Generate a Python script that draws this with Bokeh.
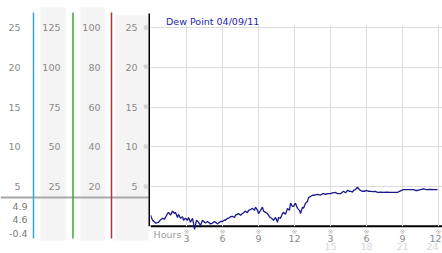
from bokeh.plotting import figure
from bokeh.layouts import row
from bokeh.models import Range1d, FixedTicker, Span, Grid
from bokeh.embed import file_html
from bokeh.resources import INLINE
from bokeh.core.properties import value

# ---------------- data ----------------
hours = [0.00, 0.17, 0.42, 0.67, 0.83, 1.00, 1.17, 1.42, 1.50, 1.67,
         1.83, 2.00, 2.08, 2.25, 2.33, 2.50, 2.67, 2.75, 2.92, 3.08,
         3.17, 3.33, 3.50, 3.58, 3.67, 3.83, 4.00, 4.17, 4.33, 4.50,
         4.58, 4.75, 4.83, 5.00, 5.17, 5.33, 5.42, 5.58, 5.67, 5.83,
         6.00, 6.17, 6.25, 6.42, 6.50, 6.67, 6.83, 7.00, 7.08, 7.25,
         7.33, 7.50, 7.67, 7.83, 7.92, 8.08, 8.17, 8.33, 8.50, 8.67,
         8.75, 8.92, 9.00, 9.17, 9.33, 9.42, 9.58, 9.75, 9.92, 10.00,
         10.17, 10.25, 10.42, 10.58, 10.67, 10.83, 11.00, 11.08, 11.25, 11.42,
         11.58, 11.67, 11.83, 11.92, 12.08, 12.25, 12.42, 12.50, 12.67, 12.75,
         12.92, 13.08, 13.17, 13.33, 13.50, 13.67, 13.92, 14.17, 14.33, 14.42,
         14.58, 14.75, 15.00, 15.17, 15.42, 15.58, 15.83, 16.00, 16.08, 16.25,
         16.42, 16.58, 16.67, 16.83, 16.92, 17.08, 17.25, 17.42, 17.50, 17.67,
         17.83, 18.00, 18.17, 18.33, 18.58, 18.75, 18.92, 19.17, 19.42, 19.67,
         20.00, 20.33, 20.58, 20.75, 20.92, 21.08, 21.33, 21.67, 21.92, 22.08,
         22.25, 22.50, 22.75, 23.00, 23.33, 23.67, 23.92]
dew_point = [1.4, 0.75, 0.4, 0.5, 0.8, 1.0, 0.9, 1.6, 1.75, 1.4,
             1.9, 1.6, 1.75, 1.1, 1.5, 1.0, 1.2, 0.75, 1.0, 0.75,
             1.1, 0.5, 1.0, 0.4, -0.4, 0.75, 0.5, 0.1, 0.75, 0.5,
             0.4, 0.6, 0.5, 0.3, 0.4, 0.6, 0.5, 0.3, 0.4, 0.6,
             0.6, 0.8, 0.75, 1.0, 1.0, 1.2, 1.25, 1.1, 1.4, 1.5,
             1.6, 1.4, 1.6, 1.8, 1.9, 1.7, 2.0, 2.1, 2.25, 2.0,
             2.4, 2.0, 1.6, 2.0, 2.4, 1.9, 1.75, 1.6, 1.2, 1.1,
             0.9, 0.75, 1.1, 0.5, 1.1, 1.0, 1.6, 1.75, 1.5, 2.25,
             2.0, 2.9, 2.5, 2.5, 2.9, 2.25, 2.0, 1.6, 2.4, 2.25,
             2.9, 3.1, 3.6, 3.75, 3.9, 3.9, 4.0, 3.9, 4.1, 4.1,
             4.0, 4.1, 4.1, 4.2, 4.25, 4.1, 4.1, 4.3, 4.4, 4.2,
             4.5, 4.4, 4.4, 4.3, 4.5, 4.6, 4.9, 4.6, 4.5, 4.4,
             4.4, 4.5, 4.4, 4.4, 4.35, 4.4, 4.25, 4.3, 4.25, 4.3,
             4.25, 4.25, 4.25, 4.4, 4.5, 4.6, 4.6, 4.6, 4.6, 4.5,
             4.5, 4.6, 4.7, 4.6, 4.65, 4.6, 4.6]

main_ticks = [5, 10, 15, 20, 25]
col2_labels = [25, 50, 75, 100, 125]
col3_labels = [20, 40, 60, 80, 100]
hour_ticks = [3, 6, 9, 12, 15, 18, 21, 24]
hour_labels = ["3", "6", "9", "12", "3", "6", "9", "12"]
hour24_ticks = [15, 18, 21, 24]
hour24_labels = ["15", "18", "21", "24"]
legend_text = "Dew Point 04/09/11"

# ---------------- layout helpers ----------------
ZERO_PX = 225.75   # screen row of value 0
PXU = 7.95         # pixels per unit


def v(py):
    """value at a given screen row (layout helper)"""
    return (ZERO_PX - py) / PXU


H = 253
FONT = "DejaVu Sans"
FS = "9.5px"
GRID = "#dcdcdc"
LBL = "#8a8a8a"

# ---------------- left label panel ----------------
left = figure(width=150, height=H, x_range=Range1d(0, 150),
              y_range=Range1d(v(H), v(0)), x_axis_type=None, y_axis_type=None,
              output_backend="svg", toolbar_location=None, min_border=0)
left.outline_line_color = None

left.quad(left=[40, 80, 115], right=[65, 104, 148],
          bottom=[v(240)] * 3, top=[v(7), v(7), v(15)],
          fill_color="#f4f4f4", line_color=None)
left.segment(x0=[0], y0=[v(197)], x1=[148], y1=[v(197)],
             line_color="#a8a8a8", line_width=2)
left.segment(x0=[33, 72.5, 111], y0=[v(238)] * 3, x1=[33, 72.5, 111], y1=[v(12)] * 3,
             line_color=["#3da2d4", "#3aa63a", "#b03434"], line_width=1.5)
left.segment(x0=[149], y0=[0], x1=[149], y1=[v(13)], line_color="black", line_width=2)

common = dict(text_baseline="middle", text_font=value(FONT), text_font_size=FS,
              text_color=LBL)
left.text(x=[20] * 5, y=main_ticks, text=[str(t) for t in main_ticks],
          text_align="right", **common)
left.text(x=[60] * 5, y=main_ticks, text=[str(t) for t in col2_labels],
          text_align="right", **common)
left.text(x=[100] * 5, y=main_ticks, text=[str(t) for t in col3_labels],
          text_align="right", **common)
left.text(x=[137] * 5, y=main_ticks, text=[str(t) for t in main_ticks],
          text_align="right", **common)
left.text(x=[145.5] * 5, y=main_ticks, text=["※"] * 5, text_align="center",
          text_baseline="middle", text_font=value(FONT), text_font_size="7px",
          text_color="#b8b8b8")

stats = [max(dew_point), dew_point[-1], min(dew_point)]
left.text(x=[27] * 3, y=[v(206), v(219), v(233)], text=[f"{s:.1f}" for s in stats],
          text_align="right", text_baseline="middle", text_font=value(FONT),
          text_font_size=FS, text_color="#7a7a7a")

# ---------------- main chart ----------------
p = figure(width=292, height=H, x_range=Range1d(0, 24 + 4 / 12),
           y_range=Range1d(v(H), v(0)), x_axis_type=None, y_axis_type=None,
           output_backend="svg", toolbar_location=None, min_border=0)
p.outline_line_color = None
p.add_layout(Grid(dimension=1, ticker=FixedTicker(ticks=main_ticks),
                  grid_line_color=GRID, grid_line_width=1))

n = len(hour_ticks)
p.segment(x0=hour_ticks, y0=[0] * n, x1=hour_ticks, y1=[v(25)] * n,
          line_color=GRID, line_width=1)

# hour axis: tick marks and labels
p.text(x=hour_ticks, y=[v(231.5)] * n, text=["※"] * n, text_align="center",
       text_baseline="middle", text_font=value(FONT), text_font_size="7px",
       text_color="#b8b8b8")
last_shift = [0] * (n - 1) + [-3]
p.text(x=hour_ticks, y=[v(234)] * n, text=hour_labels, x_offset=last_shift,
       text_align="center", text_baseline="top", text_font=value(FONT),
       text_font_size=FS, text_color=LBL)
m = len(hour24_ticks)
p.text(x=hour24_ticks, y=[v(242)] * m, text=hour24_labels,
       x_offset=[0] * (m - 1) + [-6], text_align="center", text_baseline="top",
       text_font=value(FONT), text_font_size=FS, text_color="#d6d6d6")
p.text(x=[0.25], y=[v(228)], text=["Hours"], text_align="left", text_baseline="top",
       text_font=value(FONT), text_font_size=FS, text_color="#9a9a9a")

p.add_layout(Span(location=0, dimension="width", line_color="black",
                  line_width=2, level="underlay"))

p.line(hours, dew_point, line_color="#1a1a8c", line_width=1.3)

p.scatter(x=[], y=[], marker="circle", size=7, fill_color="#c0c0c0",
          line_color="#8c8c8c", legend_label=legend_text)
lg = p.legend[0]
lg.location = (2, H - 27)
lg.margin = 0
lg.padding = 0
lg.spacing = 0
lg.glyph_width = 14
lg.glyph_height = 12
lg.label_height = 12
lg.label_standoff = 0
lg.label_text_font = FONT
lg.label_text_font_size = FS
lg.label_text_color = "#2525aa"
lg.border_line_color = None
lg.background_fill_alpha = 0

layout = row(left, p)
open("out.html", "w").write(file_html(layout, INLINE, "chart"))
